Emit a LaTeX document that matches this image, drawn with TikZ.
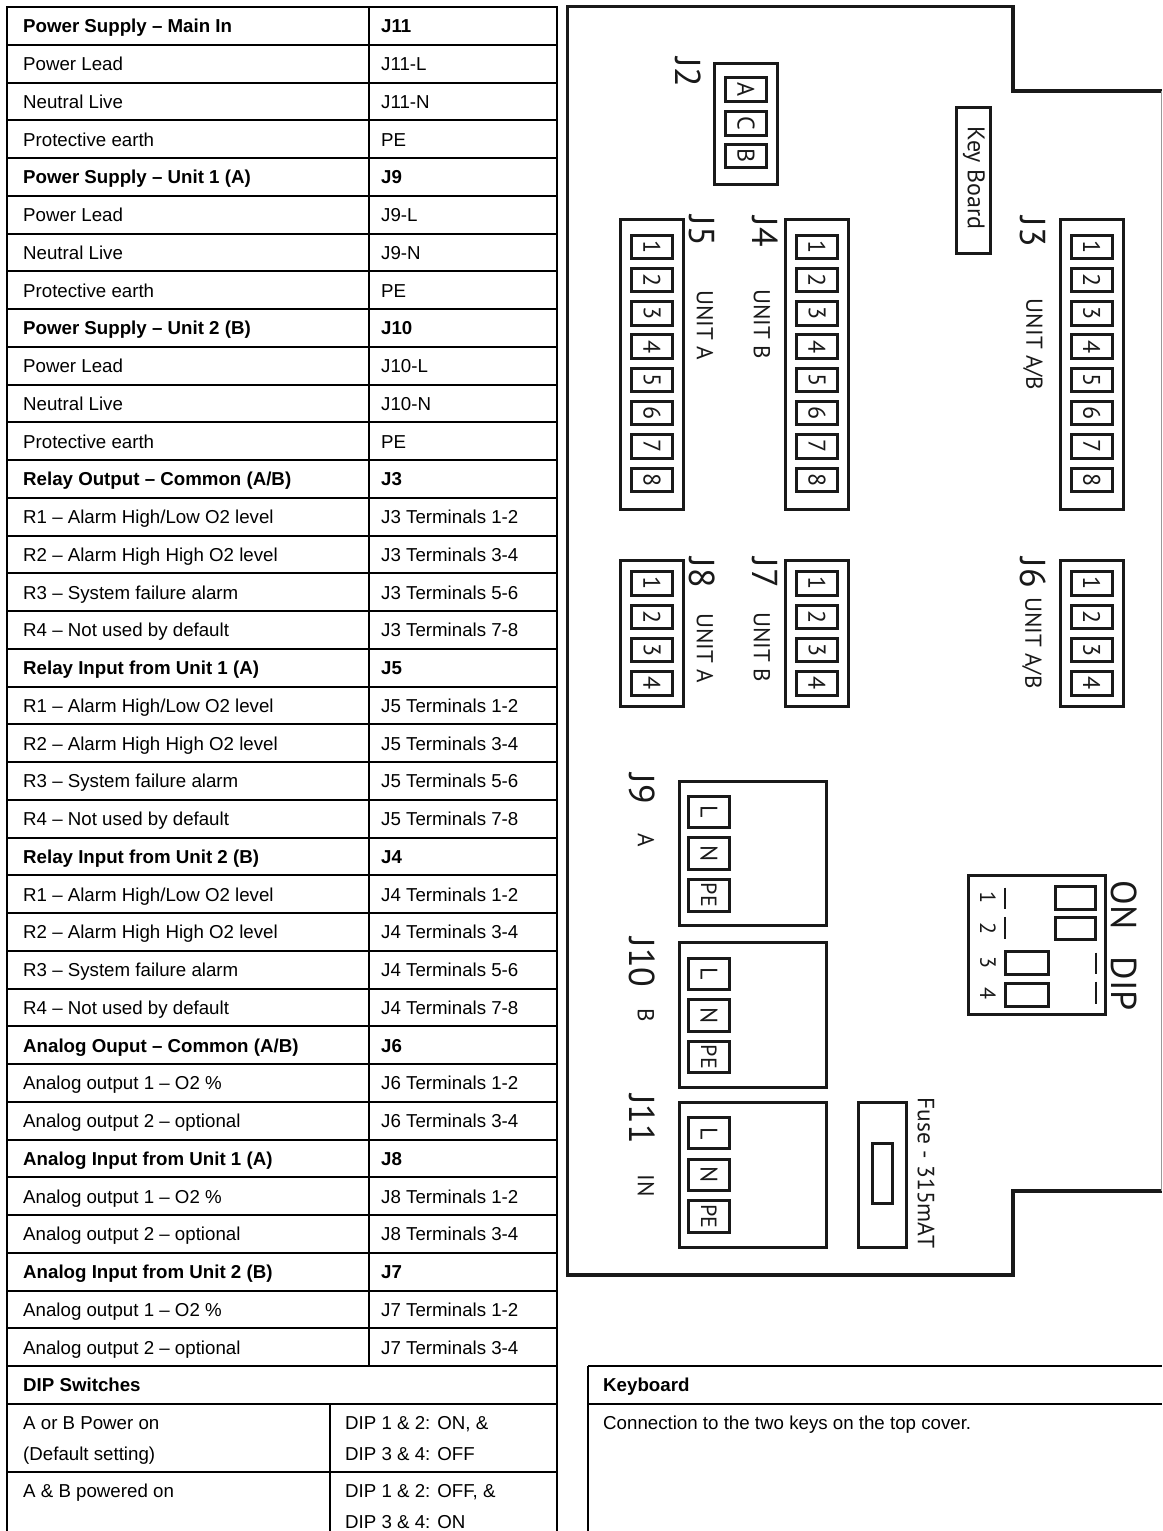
\documentclass[tikz,border=0pt]{standalone}
\usepackage{fontspec}
\setmainfont{Liberation Sans}
\newfontfamily\boardfont{PT Sans}
\tikzset{
    tablerule/.style={line width=2pt, black},
    rowtext/.style={anchor=base west, inner sep=0pt, font=\fontsize{18.7}{18.7}\selectfont},
    rowhead/.style={rowtext, font=\fontsize{18.7}{18.7}\selectfont\bfseries},
    boardline/.style={line width=3.2pt, black!90, line join=miter},
    partbox/.style={line width=3pt, black!90},
    cellbox/.style={line width=3pt, black!90},
    boardtext/.style={rotate=-90, inner sep=0pt, text=black!90, font=\fontsize{#1}{#1}\selectfont\boardfont},
    boardtext/.default=24
}
\begin{document}
\begin{tikzpicture}[x=1pt, y=-1pt]
    \useasboundingbox (0, 0) rectangle (1162, 1531);

    % Left table rules
    \foreach \i in {0, 1, ..., 37} {
        \draw[tablerule] (7, 7+37.75*\i) -- (556.5, 7+37.75*\i);
    }
    \draw[tablerule] (7, 1472) -- (556.5, 1472);
    \draw[tablerule] (7, 6) -- (7, 1531);
    \draw[tablerule] (556.5, 6) -- (556.5, 1531);
    \draw[tablerule] (368.5, 7) -- (368.5, 1366);
    \draw[tablerule] (330, 1404) -- (330, 1531);

    % Header rows of the left table
    \foreach \i/\a/\b in {0/{Power Supply – Main In}/J11, 4/{Power Supply – Unit 1 (A)}/J9,
        8/{Power Supply – Unit 2 (B)}/J10, 12/{Relay Output – Common (A/B)}/J3,
        17/{Relay Input from Unit 1 (A)}/J5, 22/{Relay Input from Unit 2 (B)}/J4,
        27/{Analog Ouput – Common (A/B)}/J6, 30/{Analog Input from Unit 1 (A)}/J8,
        33/{Analog Input from Unit 2 (B)}/J7} {
        \node[rowhead] (namerow\i) at (23, 32.8+37.75*\i) {\a};
        \node[rowhead] (portrow\i) at (381, 32.8+37.75*\i) {\b};
    }

    % Plain rows of the left table
    \foreach \i/\a/\b in {1/{Power Lead}/J11-L, 2/{Neutral Live}/J11-N, 3/{Protective earth}/PE,
        5/{Power Lead}/J9-L, 6/{Neutral Live}/J9-N, 7/{Protective earth}/PE,
        9/{Power Lead}/J10-L, 10/{Neutral Live}/J10-N, 11/{Protective earth}/PE,
        13/{R1 – Alarm High/Low O2 level}/{J3 Terminals 1-2}, 14/{R2 – Alarm High High O2 level}/{J3 Terminals 3-4},
        15/{R3 – System failure alarm}/{J3 Terminals 5-6}, 16/{R4 – Not used by default}/{J3 Terminals 7-8},
        18/{R1 – Alarm High/Low O2 level}/{J5 Terminals 1-2}, 19/{R2 – Alarm High High O2 level}/{J5 Terminals 3-4},
        20/{R3 – System failure alarm}/{J5 Terminals 5-6}, 21/{R4 – Not used by default}/{J5 Terminals 7-8},
        23/{R1 – Alarm High/Low O2 level}/{J4 Terminals 1-2}, 24/{R2 – Alarm High High O2 level}/{J4 Terminals 3-4},
        25/{R3 – System failure alarm}/{J4 Terminals 5-6}, 26/{R4 – Not used by default}/{J4 Terminals 7-8},
        28/{Analog output 1 – O2 \%}/{J6 Terminals 1-2}, 29/{Analog output 2 – optional}/{J6 Terminals 3-4},
        31/{Analog output 1 – O2 \%}/{J8 Terminals 1-2}, 32/{Analog output 2 – optional}/{J8 Terminals 3-4},
        34/{Analog output 1 – O2 \%}/{J7 Terminals 1-2}, 35/{Analog output 2 – optional}/{J7 Terminals 3-4}} {
        \node[rowtext] (namerow\i) at (23, 32.8+37.75*\i) {\a};
        \node[rowtext] (portrow\i) at (381, 32.8+37.75*\i) {\b};
    }

    % DIP switch settings
    \node[rowhead] (diphead) at (23, 1391.8) {DIP Switches};
    \node[rowtext] (dipa) at (23, 1429.3) {A or B Power on};
    \node[rowtext] (dipb) at (23, 1460.3) {(Default setting)};
    \node[rowtext] (dipc) at (345, 1429.3) {DIP 1 \& 2: ON, \&};
    \node[rowtext] (dipd) at (345, 1460.3) {DIP 3 \& 4: OFF};
    \node[rowtext] (dipe) at (23, 1497.8) {A \& B powered on};
    \node[rowtext] (dipf) at (345, 1497.8) {DIP 1 \& 2: OFF, \&};
    \node[rowtext] (dipg) at (345, 1528.8) {DIP 3 \& 4: ON};

    % Keyboard table
    \draw[tablerule] (588, 1366) -- (1162, 1366);
    \draw[tablerule] (588, 1403.5) -- (1162, 1403.5);
    \draw[tablerule] (588, 1366) -- (588, 1531);
    \node[rowhead] (keyhead) at (603, 1391.8) {Keyboard};
    \node[rowtext] (keytext) at (603, 1429.3) {Connection to the two keys on the top cover.};

    % Board outline
    \draw[boardline] (1162, 91) -- (1013, 91) -- (1013, 6.7) -- (567.7, 6.7) -- (567.7, 1275) -- (1013, 1275) -- (1013, 1191) -- (1162, 1191);
    \draw[black!40, line width=1pt] (1161.5, 91) -- (1161.5, 1191);

    % J2 header
    \draw[partbox] (714.7, 63.3) rectangle (777.3, 184);
    \foreach \n/\cy in {A/89.3, C/123.3, B/156} {
        \draw[cellbox] (725.8, \cy-11.7) rectangle (766.5, \cy+11.7);
        \node[boardtext] (Jtwo\n) at (746, \cy) {\n};
    }
    \node[boardtext=36] (Jtwo) at (688.6, 72.3) {J2};

    % Key board header
    \draw[partbox] (956, 107.7) rectangle (990, 253);
    \node[boardtext=24] (keyboard) at (974, 178) {Key Board};

    % Eight way relay terminals
    \foreach \nm/\x in {J5/620.3, J4/785.3, J3/1060} {
        \draw[partbox] (\x, 219) rectangle (\x+63.3, 509);
        \foreach \n in {1, ..., 8} {
            \draw[cellbox] (\x+11.2, 235+33.3*\n-33.3) rectangle (\x+52.2, 258.4+33.3*\n-33.3);
            \node[boardtext] (\nm pin\n) at (\x+31.7, 246.7+33.3*\n-33.3) {\n};
        }
    }
    \node[boardtext=36] (J5) at (702, 231) {J5};
    \node[boardtext=36] (J4) at (765, 232) {J4};
    \node[boardtext=36] (J3) at (1033, 232) {J3};
    \node[boardtext=23] (unitJ5) at (705, 325) {UNIT A};
    \node[boardtext=23] (unitJ4) at (762, 324) {UNIT B};
    \node[boardtext=23] (unitJ3) at (1033, 344.5) {UNIT A/B};

    % Four way analog terminals
    \foreach \nm/\x in {J8/620.3, J7/785.3, J6/1060} {
        \draw[partbox] (\x, 560) rectangle (\x+63.3, 706.5);
        \foreach \n in {1, ..., 4} {
            \draw[cellbox] (\x+11.2, 571.8+33.3*\n-33.3) rectangle (\x+52.2, 595.2+33.3*\n-33.3);
            \node[boardtext] (\nm pin\n) at (\x+31.7, 583.5+33.3*\n-33.3) {\n};
        }
    }
    \node[boardtext=36] (J8) at (702, 573) {J8};
    \node[boardtext=36] (J7) at (765, 573) {J7};
    \node[boardtext=36] (J6) at (1033, 573) {J6};
    \node[boardtext=23] (unitJ8) at (705, 648) {UNIT A};
    \node[boardtext=23] (unitJ7) at (762, 647) {UNIT B};
    \node[boardtext=23] (unitJ6) at (1032, 643) {UNIT A/B};

    % Power terminals
    \foreach \nm/\ty in {J9/781, J10/942.8, J11/1102.2} {
        \draw[partbox] (679, \ty) rectangle (826.8, \ty+144.8);
        \draw[cellbox] (688.6, \ty+15.2) rectangle (729.3, \ty+46.6);
        \draw[cellbox] (688.6, \ty+56.8) rectangle (729.3, \ty+88.2);
        \draw[cellbox] (688.6, \ty+98.4) rectangle (729.3, \ty+130);
        \node[boardtext] (\nm L) at (709, \ty+31) {L};
        \node[boardtext] (\nm N) at (709, \ty+72.5) {N};
        \node[boardtext=22] (\nm PE) at (709, \ty+114) {PE};
    }
    \node[boardtext=36] (J9) at (642, 789) {J9};
    \node[boardtext=36] (J10) at (642, 962.7) {J10};
    \node[boardtext=36] (J11) at (642, 1119) {J11};
    \node[boardtext=23] (unitJ9) at (646, 840) {A};
    \node[boardtext=23] (unitJ10) at (646, 1015) {B};
    \node[boardtext=23] (unitJ11) at (646, 1185.7) {IN};

    % Fuse
    \draw[partbox] (858.3, 1102) rectangle (906.6, 1247);
    \draw[partbox] (872.9, 1143.4) rectangle (892, 1203.6);
    \node[boardtext=23.5] (fuse) at (926, 1173) {Fuse - 315mAT};

    % DIP switch block
    \draw[partbox] (968.8, 875.5) rectangle (1105, 1014);
    \draw[cellbox] (1055.6, 886.7) rectangle (1095.9, 909.7);
    \draw[cellbox] (1055.6, 917) rectangle (1095.9, 939.7);
    \draw[cellbox] (1005, 951.2) rectangle (1048.3, 974.5);
    \draw[cellbox] (1005, 983) rectangle (1048.3, 1006.6);
    \draw[line width=2pt, black!90] (1005.3, 887.7) -- (1005.3, 909.3);
    \draw[line width=2pt, black!90] (1005.3, 916.8) -- (1005.3, 939);
    \draw[line width=2pt, black!90] (1095.9, 952.6) -- (1095.9, 973.9);
    \draw[line width=2pt, black!90] (1095.9, 981.6) -- (1095.9, 1004);
    \foreach \n/\cy in {1/897.8, 2/928, 3/962, 4/993} {
        \node[boardtext=22] (dipnum\n) at (988, \cy) {\n};
    }
    \node[boardtext=36] (dipon) at (1124, 905) {ON};
    \node[boardtext=36] (dipname) at (1124, 984) {DIP};
\end{tikzpicture}
\end{document}
